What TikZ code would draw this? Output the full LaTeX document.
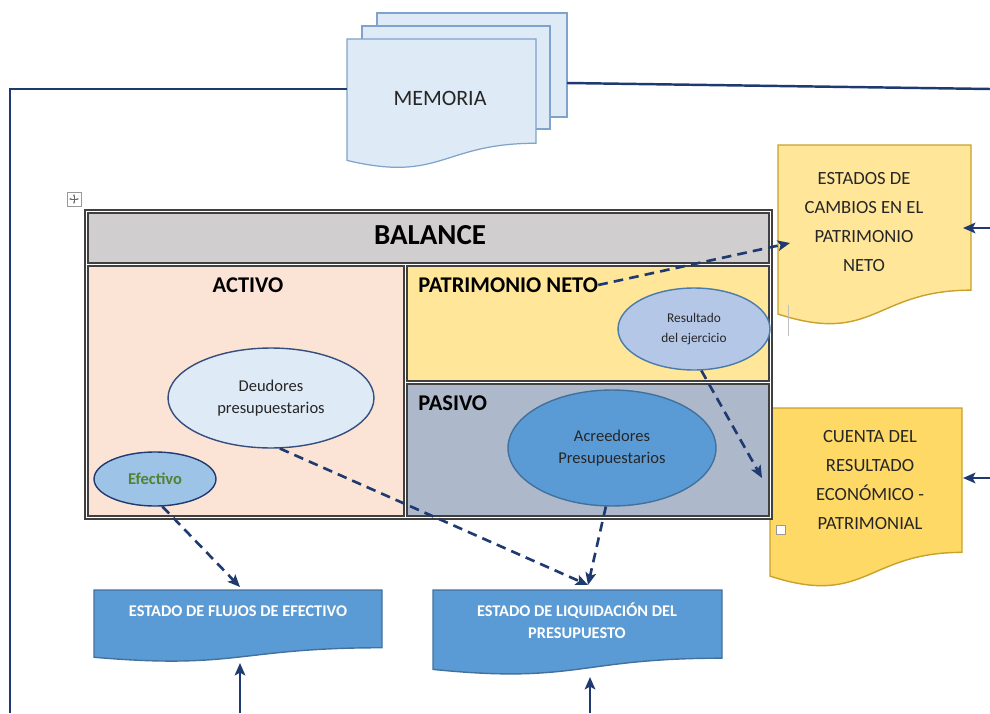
\documentclass[tikz,border=0pt]{standalone}
\usepackage{fontspec}
\setmainfont{Carlito}
\usepackage{xcolor}
\usetikzlibrary{arrows.meta,shapes.geometric}

\definecolor{navy}{HTML}{1F3A70}
\definecolor{txtgray}{HTML}{262626}
\definecolor{memfill}{HTML}{DEEAF6}
\definecolor{memline}{HTML}{7FA3CB}
\definecolor{goldlight}{HTML}{FFE699}
\definecolor{goldmid}{HTML}{FFD966}
\definecolor{goldline}{HTML}{C9A12B}
\definecolor{bluemid}{HTML}{5B9BD5}
\definecolor{bluemidline}{HTML}{41719C}
\definecolor{peach}{HTML}{FBE4D5}
\definecolor{headgray}{HTML}{D0CECE}
\definecolor{slate}{HTML}{ADB9CA}
\definecolor{paleblue}{HTML}{B4C7E7}
\definecolor{lightblue}{HTML}{9DC3E6}
\definecolor{greentxt}{HTML}{538135}

% document page with wavy bottom: style, left, top, right, height
\newcommand{\docpage}[5]{%
  \draw[#1] (#2,#3) -- (#4,#3) -- (#4,{#3+0.802*#5})
    .. controls ({(#2+#4)/2},{#3+0.802*#5}) and ({(#2+#4)/2},{#3+1.107*#5}) ..
    (#2,{#3+0.934*#5}) -- cycle;}

\begin{document}
\begin{tikzpicture}[x=0.02cm,y=-0.02cm,
    frame/.style={navy,line width=1.4pt},
    solidarrow/.style={navy,line width=1.4pt,-{Stealth[length=7pt,width=6pt,inset=1.5pt]}},
    dasharrow/.style={navy,line width=1.5pt,dash pattern=on 5.5pt off 3.5pt,
      -{Stealth[length=7pt,width=6pt,inset=1.5pt]}},
    cell/.style={draw=black!75,line width=0.6pt},
    celltitle/.style={font=\bfseries\fontsize{12.8}{15}\selectfont,text=black,inner sep=0pt},
    doctext/.style={align=center,text=txtgray,font=\fontsize{10.6}{16.5}\selectfont,inner sep=0pt},
    bluetext/.style={align=center,text=white,font=\bfseries\fontsize{9.3}{12.5}\selectfont,inner sep=0pt},
    bubble/.style={ellipse,inner sep=0pt,line width=0.8pt,align=center,text=txtgray,
      font=\fontsize{9.4}{12.5}\selectfont}]
\useasboundingbox (0,0) rectangle (990,713);

% memoria (stacked pages)
\draw[memline,fill=memfill,line width=0.7pt] (377,13) rectangle (567,117);
\draw[memline,fill=memfill,line width=0.7pt] (362,26) rectangle (550,129);
\docpage{memline,fill=memfill,line width=0.7pt}{347}{39}{536}{130}
\node[text=txtgray,font=\fontsize{12.5}{15}\selectfont,inner sep=0pt] (mem) at (440,98) {MEMORIA};
\coordinate (memW) at (347,89);
\coordinate (memE) at (567,83);

% frame lines
\coordinate (frameBL) at (10,713);
\coordinate (frameTL) at (10,89);
\coordinate (frameTR) at (990,89);
\draw[frame] (frameBL) -- (frameTL) -- (memW);
\draw[frame] (memE) -- (frameTR);

% estados de cambios
\docpage{goldline,fill=goldlight,line width=0.8pt}{778}{145}{971}{181}
\node[doctext] (cambios) at (864,222) {ESTADOS DE\\CAMBIOS EN EL\\PATRIMONIO\\NETO};
\draw[black!25,line width=0.5pt] (788,305) -- (788,336);
\coordinate (cambiosW) at (790,243);
\coordinate (cambiosE) at (963,228);
\coordinate (edgeA) at (990,228);
\draw[solidarrow] (edgeA) -- (cambiosE);

% cuenta del resultado
\docpage{goldline,fill=goldmid,line width=0.8pt}{770}{408}{962}{180}
\node[doctext] (cuenta) at (870,480) {CUENTA DEL\\RESULTADO\\ECONÓMICO -\\PATRIMONIAL};
\draw[black!40,fill=white,line width=0.5pt] (776,525) rectangle (785,534);
\coordinate (cuentaW) at (762,478);
\coordinate (cuentaE) at (963,478);
\coordinate (edgeB) at (990,478);
\draw[solidarrow] (edgeB) -- (cuentaE);

% balance table
\draw[black!40,fill=white,line width=0.5pt] (67,192) rectangle (81,206);
\draw[black!60,line width=0.4pt,{Stealth[length=1.5pt]}-{Stealth[length=1.5pt]}] (69,199) -- (79,199);
\draw[black!60,line width=0.4pt,{Stealth[length=1.5pt]}-{Stealth[length=1.5pt]}] (74,194) -- (74,204);
\draw[black!75,fill=white,line width=0.8pt] (85,210) rectangle (772,519);
\draw[cell,fill=headgray] (88,213) rectangle (769,263);
\draw[cell,fill=peach] (88,266) rectangle (404,516);
\draw[cell,fill=goldlight] (407,266) rectangle (769,381);
\draw[cell,fill=slate] (407,384) rectangle (769,516);
\node[font=\bfseries\fontsize{16.5}{20}\selectfont,inner sep=0pt] (bal) at (430,235) {BALANCE};
\node[celltitle] (act) at (248,285) {ACTIVO};
\node[celltitle,anchor=west] (pn) at (418,285) {PATRIMONIO NETO};
\node[celltitle,anchor=west] (pas) at (418,403) {PASIVO};

\node[bubble,draw=navy!90,fill=memfill,minimum width=4.12cm,minimum height=2cm] (deud) at (271,398) {Deudores\\presupuestarios};
\node[bubble,draw=navy,fill=lightblue,minimum width=2.44cm,minimum height=1.08cm,
  text=greentxt,font=\bfseries\fontsize{9.4}{12}\selectfont] (efec) at (155,479) {Efectivo};
\node[bubble,draw=bluemid!80!black,fill=paleblue,minimum width=3.04cm,minimum height=1.64cm,
  font=\fontsize{7.6}{11}\selectfont] (res) at (694,329) {Resultado\\del ejercicio};
\node[bubble,draw=bluemidline,fill=bluemid,minimum width=4.16cm,minimum height=2.32cm] (acre) at (612,448) {Acreedores\\Presupuestarios};

% bottom statements
\docpage{bluemidline,fill=bluemid,line width=0.8pt}{94}{590}{382}{72}
\node[bluetext] (flujos) at (238,611) {ESTADO DE FLUJOS DE EFECTIVO};
\coordinate (flujosN) at (240,587);
\coordinate (flujosS) at (240,663);
\coordinate (edgeC) at (240,713);

\docpage{bluemidline,fill=bluemid,line width=0.8pt}{433}{590}{722}{85}
\node[bluetext] (liq) at (577,621) {ESTADO DE LIQUIDACIÓN DEL\\PRESUPUESTO};
\coordinate (liqN) at (588,585);
\coordinate (liqS) at (590,677);
\coordinate (edgeD) at (590,713);

\draw[solidarrow] (edgeC) -- (flujosS);
\draw[solidarrow] (edgeD) -- (liqS);

% dashed links
\draw[dasharrow] (pn.east) -- (cambiosW);
\draw[dasharrow] (res.-80) -- (cuentaW);
\draw[dasharrow] (efec.-75) -- (flujosN);
\draw[dasharrow] (deud.-80) -- (liqN);
\draw[dasharrow] (acre.-96) -- (liqN);
\end{tikzpicture}
\end{document}
